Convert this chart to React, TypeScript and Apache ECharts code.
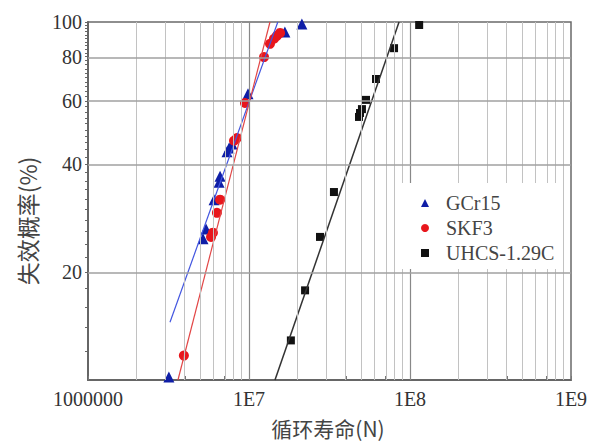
import React, { useEffect, useRef } from 'react';
import * as echarts from 'echarts';

// ---- data (cycles N, failure probability %) ----
const gcr15N = [3.18e6, 5.18e6, 5.41e6, 6.07e6, 6.52e6, 6.61e6, 7.3e6, 7.52e6, 7.84e6, 9.86e6, 1.67e7, 2.13e7];
const gcr15F = [10.2, 24.8, 26.4, 31.9, 35.7, 37.1, 43.4, 44.5, 45.6, 63.0, 93.8, 98.7];

const skf3N = [3.94e6, 5.81e6, 5.97e6, 6.32e6, 6.61e6, 8.07e6, 8.42e6, 9.44e6, 1.24e7, 1.35e7, 1.43e7, 1.49e7, 1.56e7];
const skf3F = [11.7, 25.1, 25.8, 29.3, 31.9, 46.6, 47.4, 59.4, 79.8, 86.9, 89.8, 91.5, 93.2];

const uhcsN = [1.82e7, 2.23e7, 2.76e7, 3.37e7, 4.82e7, 4.89e7, 5.03e7, 5.33e7, 6.15e7, 7.96e7, 1.14e8];
const uhcsF = [12.9, 17.8, 25.1, 33.5, 54.3, 55.7, 57.1, 60.6, 69.3, 84.5, 98.1];

// fitted lines (endpoints)
const gcr15FitN = [3.23e6, 1.51e7];
const gcr15FitF = [14.5, 100];
const skf3FitN = [3.62e6, 1.35e7];
const skf3FitF = [10, 100];
const uhcsFitN = [1.45e7, 8.55e7];
const uhcsFitF = [10, 100];

// axis ticks / labels
const xDecades = [1e6, 1e7, 1e8, 1e9];
const xTickLabels = ['1000000', '1E7', '1E8', '1E9'];
const xMinorMultipliers = [2, 3, 4, 5, 6, 7, 8, 9];
const yTickLabels = [20, 40, 60, 80, 100];
const yGridValues = [20, 40, 60, 80];
const yMinorTicks = [12, 14, 16, 18, 20, 22, 24, 26, 28, 30, 32, 34, 36, 38, 40, 42, 44, 46, 48, 50, 52, 54, 56, 58, 60, 62, 64, 66, 68, 70, 72, 74, 76, 78, 80, 82, 84, 86, 88, 90, 92, 94, 96, 98, 100];

const L = Math.log10;
const pts = (n: number[], f: number[]) => n.map((v, i) => [L(v), L(f[i])]);

const SERIF = '"Liberation Serif", "DejaVu Serif", serif';
const CJK = '"Noto Sans CJK SC", sans-serif';

export default function App() {
  const ref = useRef<HTMLDivElement>(null);
  useEffect(() => {
    if (!ref.current) return;
    const chart = echarts.init(ref.current, null, { renderer: 'svg' });

    const minorX: number[] = [];
    xDecades.slice(0, 3).forEach((d) => xMinorMultipliers.forEach((k) => minorX.push(L(k * d))));
    const majorX = xDecades.slice(1, 3).map(L);

    const option: any = {
      animation: false,
      backgroundColor: '#fff',
      grid: {
        left: 88, top: 22, width: 483, height: 358,
        show: true, borderColor: '#6a6a6a', borderWidth: 1.5, backgroundColor: 'transparent',
      },
      xAxis: {
        type: 'value', min: 6, max: 9, interval: 1,
        axisLine: { show: true, lineStyle: { color: '#666', width: 2 } },
        axisTick: {
          show: true, inside: true, length: 4,
          customValues: [...xDecades.map(L), ...minorX],
          lineStyle: { color: '#777', width: 1 },
        },
        splitLine: { show: false },
        axisLabel: {
          margin: 9, fontFamily: SERIF, fontSize: 20, color: '#333',
          formatter: (v: number) => {
            const i = xDecades.findIndex((d) => Math.abs(L(d) - v) < 1e-6);
            return i >= 0 ? xTickLabels[i] : '';
          },
        },
      },
      yAxis: {
        type: 'value', min: 1, max: 2,
        axisLine: { show: true, lineStyle: { color: '#666', width: 2 } },
        axisTick: {
          show: true, inside: false, length: 3,
          customValues: yMinorTicks.map(L),
          lineStyle: { color: '#666', width: 1 },
        },
        splitLine: { show: false },
        axisLabel: {
          margin: 6, fontFamily: SERIF, fontSize: 20, color: '#333',
          customValues: yTickLabels.map(L),
          formatter: (v: number) => String(Math.round(Math.pow(10, v))),
        },
      },
      legend: {
        orient: 'vertical', left: 396, top: 183, z: 10,
        padding: [10, 8, 6, 25], backgroundColor: '#fff',
        itemWidth: 8, itemHeight: 8, itemGap: 5,
        data: ['GCr15', 'SKF3', 'UHCS-1.29C'],
        textStyle: { fontFamily: SERIF, fontSize: 20, color: '#444', lineHeight: 20, padding: [0, 0, 0, 12] },
      },
      graphic: [
        {
          type: 'text', x: 328, y: 428,
          style: { text: '循环寿命(N)', font: `21px ${CJK}`, fill: '#444', textAlign: 'center', textVerticalAlign: 'middle' },
        },
        {
          type: 'text', x: 27, y: 221, rotation: Math.PI / 2,
          style: { text: '失效概率(%)', font: `23px ${CJK}`, fill: '#444', textAlign: 'center', textVerticalAlign: 'middle' },
        },
      ],
      series: [
        {
          name: 'grid', type: 'line', data: [], silent: true,
          markLine: {
            silent: true, symbol: ['none', 'none'], label: { show: false },
            data: [
              ...minorX.map((v) => ({ xAxis: v, lineStyle: { color: '#c2c2c2', width: 1, type: 'solid' } })),
              ...majorX.map((v) => ({ xAxis: v, lineStyle: { color: '#888', width: 1.2, type: 'solid' } })),
              ...yGridValues.map((v) => ({ yAxis: L(v), lineStyle: { color: '#a0a0a0', width: 1.5, type: 'solid' } })),
            ],
          },
        },
        {
          name: 'GCr15 fit', type: 'line', symbol: 'none', silent: true,
          data: pts(gcr15FitN, gcr15FitF), lineStyle: { color: '#4255e0', width: 1.2 },
        },
        {
          name: 'SKF3 fit', type: 'line', symbol: 'none', silent: true,
          data: pts(skf3FitN, skf3FitF), lineStyle: { color: '#e24646', width: 1.2 },
        },
        {
          name: 'UHCS fit', type: 'line', symbol: 'none', silent: true,
          data: pts(uhcsFitN, uhcsFitF), lineStyle: { color: '#333', width: 1.5 },
        },
        {
          name: 'GCr15', type: 'scatter', symbol: 'triangle', symbolSize: 11,
          itemStyle: { color: '#0f1ea6', opacity: 1 }, data: pts(gcr15N, gcr15F),
        },
        {
          name: 'SKF3', type: 'scatter', symbol: 'circle', symbolSize: 10,
          itemStyle: { color: '#e8161c', opacity: 1 }, data: pts(skf3N, skf3F),
        },
        {
          name: 'UHCS-1.29C', type: 'scatter', symbol: 'rect', symbolSize: 8,
          itemStyle: { color: '#111', opacity: 1 }, data: pts(uhcsN, uhcsF),
        },
      ],
    };
    chart.setOption(option);
    return () => chart.dispose();
  }, []);
  return <div ref={ref} style={{ position: 'fixed', left: 0, top: 0, width: 602, height: 445 }} />;
}
